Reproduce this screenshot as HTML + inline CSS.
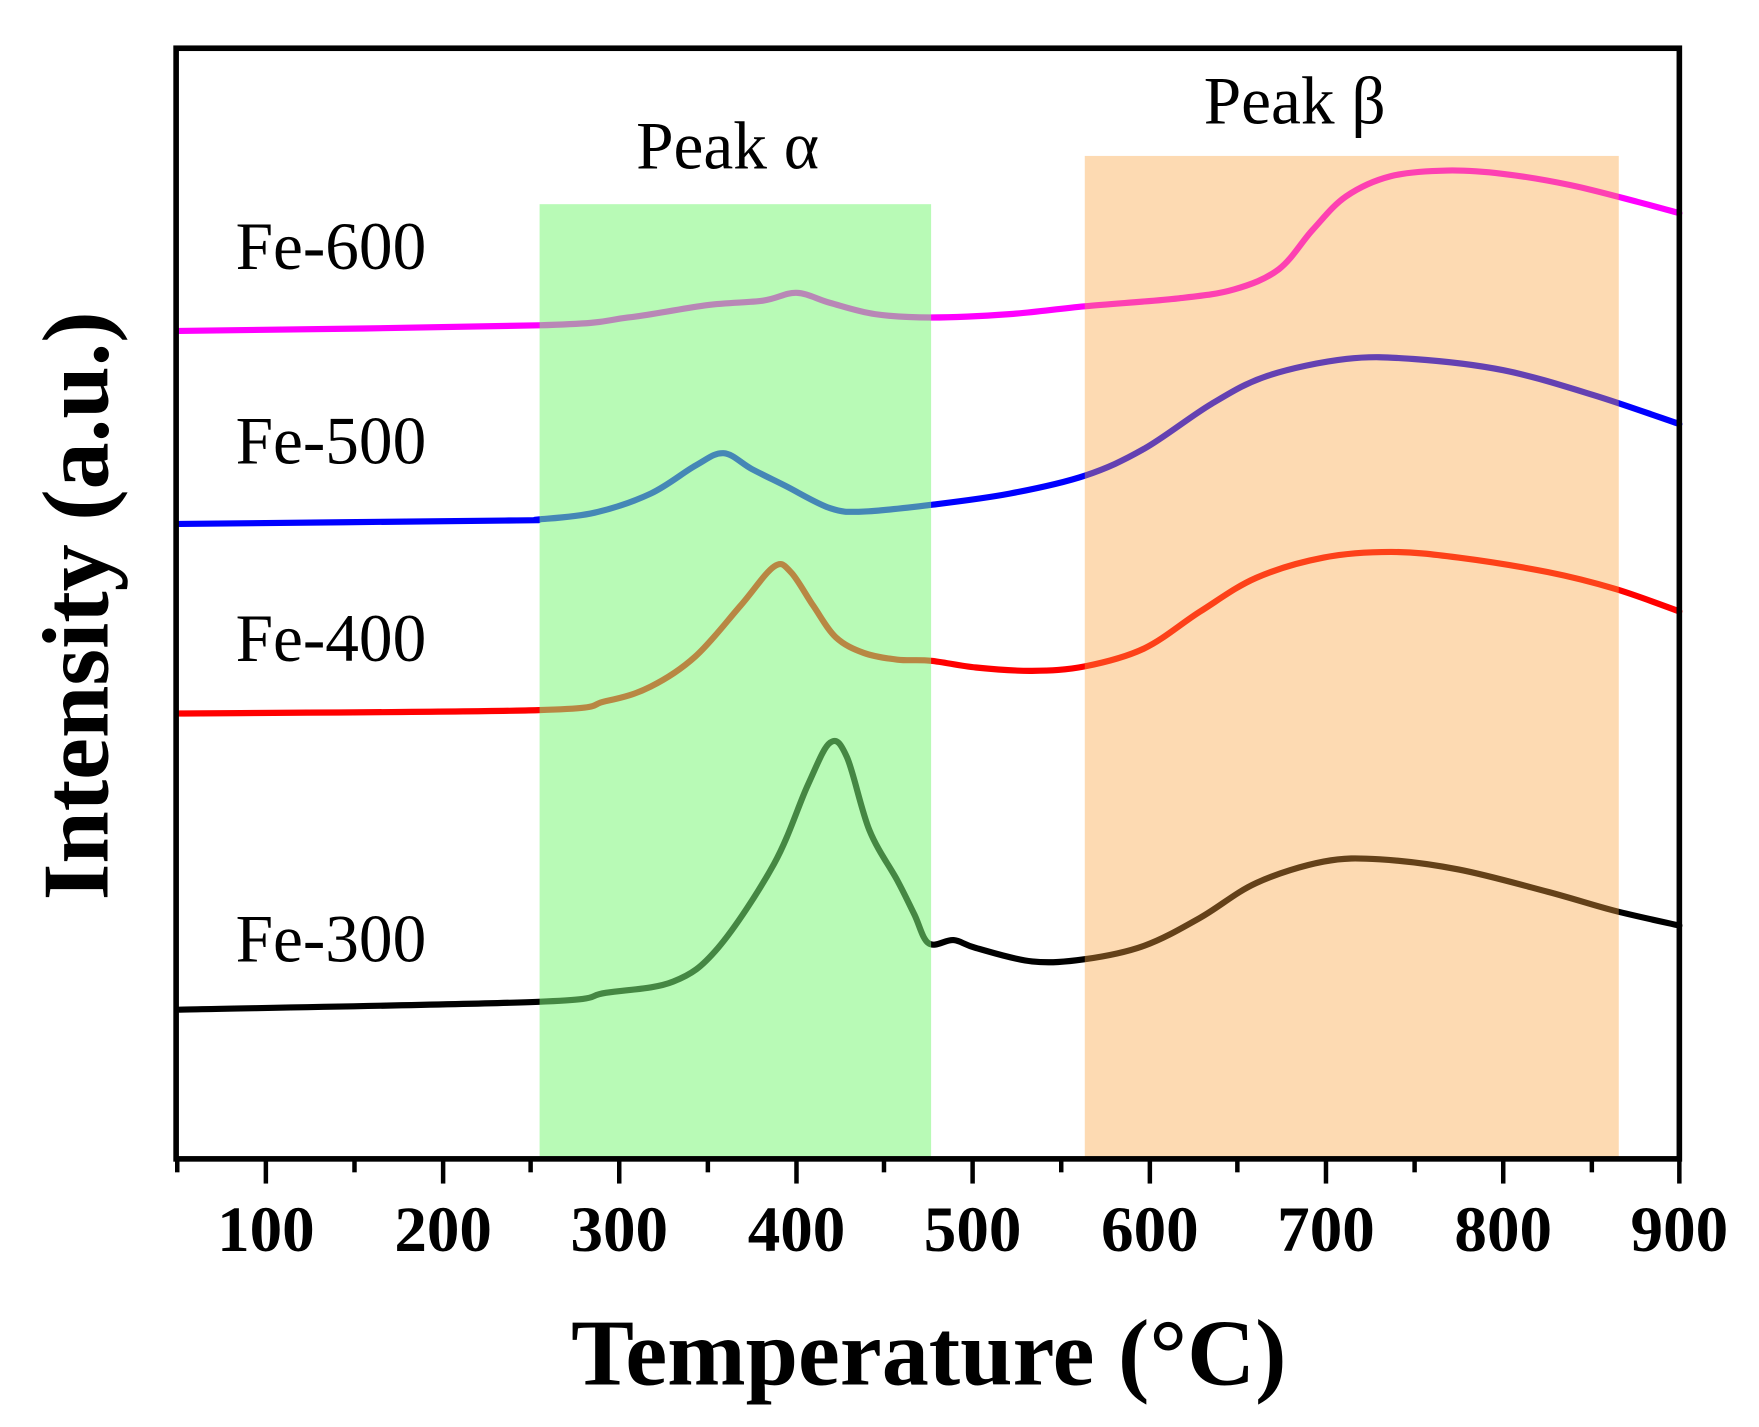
<!DOCTYPE html>
<html><head><meta charset="utf-8"><style>html,body{margin:0;padding:0;background:#fff}svg{display:block}</style></head>
<body>
<svg width="1759" height="1427" viewBox="0 0 1568 1272" preserveAspectRatio="none" xmlns="http://www.w3.org/2000/svg" font-family="Liberation Serif, serif">
<rect width="1568" height="1272" fill="#fff"/>
<g fill="none" stroke-width="5.5" stroke-linejoin="round" stroke-linecap="round">
<path class="c" stroke="#ff00ff" data-p="160,295 480,290 560,283 630,272 680,268 710,261 740,270 780,280 830,283 900,280 967,273 1050,266 1100,258 1140,240 1170,205 1200,175 1240,157 1290,152 1340,155 1400,165 1460,180 1497,190"/>
<path class="c" stroke="#0000ff" data-p="160,467 450,464 480,463 530,457 580,440 620,415 645,404 670,418 700,433 740,453 770,456 830,450 900,440 967,424 1020,400 1080,360 1130,335 1200,320 1260,320 1340,330 1420,352 1497,378"/>
<path class="c" stroke="#ff0000" data-p="160,636 480,633 540,625 580,612 620,585 660,540 690,505 705,510 725,540 745,568 770,582 800,588 830,589 870,595 920,598 967,594 1020,578 1070,545 1120,515 1180,497 1240,492 1300,497 1380,510 1440,525 1497,545"/>
<path class="c" stroke="#000000" data-p="160,900 480,893 540,885 600,875 640,845 690,770 720,700 740,662 755,675 775,740 800,785 815,815 828,841 850,838 870,845 920,857 967,855 1020,843 1070,818 1120,787 1180,768 1230,766 1300,775 1380,795 1440,812 1497,825"/>
</g>
<rect x="481" y="182" width="349" height="851" fill="#7ef57a" fill-opacity="0.55"/>
<rect x="967" y="139" width="476" height="894" fill="#f9a23f" fill-opacity="0.4"/>
<rect x="157" y="43" width="1340" height="990" fill="none" stroke="#000" stroke-width="5"/>
<g stroke="#000" stroke-width="4">
<line x1="237" y1="1033" x2="237" y2="1055"/><line x1="395" y1="1033" x2="395" y2="1055"/><line x1="552" y1="1033" x2="552" y2="1055"/><line x1="710" y1="1033" x2="710" y2="1055"/><line x1="867" y1="1033" x2="867" y2="1055"/><line x1="1025" y1="1033" x2="1025" y2="1055"/><line x1="1182" y1="1033" x2="1182" y2="1055"/><line x1="1340" y1="1033" x2="1340" y2="1055"/><line x1="1497" y1="1033" x2="1497" y2="1055"/>
<line x1="158" y1="1033" x2="158" y2="1045"/><line x1="316" y1="1033" x2="316" y2="1045"/><line x1="473" y1="1033" x2="473" y2="1045"/><line x1="631" y1="1033" x2="631" y2="1045"/><line x1="788" y1="1033" x2="788" y2="1045"/><line x1="946" y1="1033" x2="946" y2="1045"/><line x1="1103" y1="1033" x2="1103" y2="1045"/><line x1="1261" y1="1033" x2="1261" y2="1045"/><line x1="1419" y1="1033" x2="1419" y2="1045"/>
</g>
<g font-size="58" font-weight="bold" text-anchor="middle">
<text x="237" y="1115">100</text><text x="395" y="1115">200</text><text x="552" y="1115">300</text><text x="710" y="1115">400</text><text x="867" y="1115">500</text><text x="1025" y="1115">600</text><text x="1182" y="1115">700</text><text x="1340" y="1115">800</text><text x="1497" y="1115">900</text>
</g>
<text x="828" y="1234" font-size="84" font-weight="bold" text-anchor="middle">Temperature (°C)</text>
<text transform="translate(96,540) rotate(-90)" font-size="84" font-weight="bold" text-anchor="middle">Intensity (a.u.)</text>
<g font-size="60">
<text x="567" y="150">Peak α</text>
<text x="1073" y="110">Peak β</text>
<text x="210" y="240">Fe-600</text>
<text x="210" y="413">Fe-500</text>
<text x="210" y="589">Fe-400</text>
<text x="210" y="857">Fe-300</text>
</g>
</svg>
<script>
document.querySelectorAll('path.c').forEach(function(el){
 var p=el.getAttribute('data-p').trim().split(/\s+/).map(function(s){return s.split(',').map(Number)});
 var d='M'+p[0][0]+','+p[0][1];
 for(var i=0;i<p.length-1;i++){
  var p0=p[i-1]||p[i],p1=p[i],p2=p[i+1],p3=p[i+2]||p2;
  var c1=[p1[0]+(p2[0]-p0[0])/6,p1[1]+(p2[1]-p0[1])/6];
  var c2=[p2[0]-(p3[0]-p1[0])/6,p2[1]-(p3[1]-p1[1])/6];
  d+=' C'+c1[0]+','+c1[1]+' '+c2[0]+','+c2[1]+' '+p2[0]+','+p2[1];
 }
 el.setAttribute('d',d);
});
</script>
</body></html>
